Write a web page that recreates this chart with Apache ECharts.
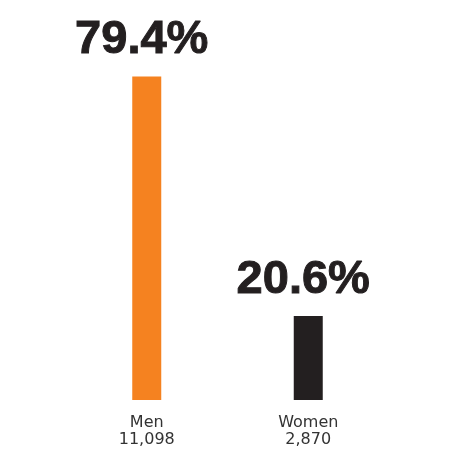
<!DOCTYPE html>
<html><head><meta charset="utf-8">
<script src="https://cdn.jsdelivr.net/npm/echarts@6/dist/echarts.min.js"></script>
<style>html,body{margin:0;padding:0;background:#fff}#c{width:470px;height:463px}</style>
</head><body><div id="c"></div>
<script>
const categories = ["Men", "Women"];
const counts = ["11,098", "2,870"];
const percents = [79.4, 20.6];
const colors = ["#f58220", "#231f20"];

const chart = echarts.init(document.getElementById('c'), null, {renderer: 'canvas'});
chart.setOption({
  animation: false,
  backgroundColor: '#ffffff',
  grid: {left: 66, right: 81, top: 0, bottom: 63, containLabel: false},
  xAxis: {
    type: 'category',
    data: categories.map((c, i) => c + '\n' + counts[i]),
    axisLine: {show: false}, axisTick: {show: false},
    axisLabel: {margin: 14, fontFamily: 'DejaVu Sans', fontSize: 16, lineHeight: 17, color: '#333333'}
  },
  yAxis: {type: 'value', min: 0, max: 98.2, show: false, splitLine: {show: false}},
  series: [{
    type: 'bar',
    barWidth: 29,
    data: percents.map((v, i) => ({value: v, itemStyle: {color: colors[i]}})),
    label: {
      show: true, position: 'top', distance: 13, offset: [-5, 0],
      formatter: p => p.value.toFixed(1) + '%',
      fontFamily: 'Liberation Sans', fontWeight: 'bold', fontSize: 47, color: '#231f20',
      textBorderColor: '#231f20', textBorderWidth: 1
    }
  }]
});
</script></body></html>
